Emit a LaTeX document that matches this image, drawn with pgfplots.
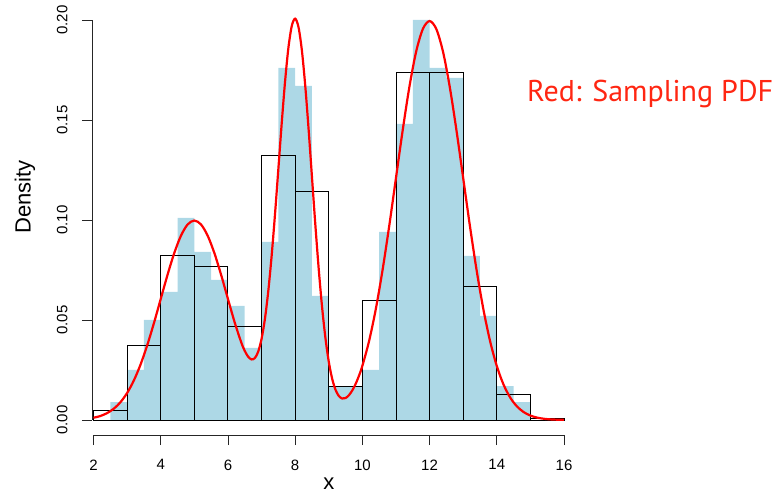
\documentclass[border=0pt]{standalone}
\usepackage{fontspec}
\setmainfont{Liberation Sans}
\newfontfamily\ptsans{PT Sans}
\usepackage{pgfplots}
\pgfplotsset{compat=1.18}
\definecolor{lightblueR}{HTML}{ADD8E6}
\definecolor{textred}{RGB}{255,38,18}
\begin{document}
\begin{tikzpicture}
\useasboundingbox (-93.5pt,-75pt) rectangle (682.5pt,420pt);
\begin{axis}[
  at={(0pt,0pt)}, anchor=south west,
  scale only axis, width=470.5pt, height=400pt,
  xmin=2, xmax=16, ymin=0, ymax=0.2,
  axis x line*=bottom, axis y line*=left,
  axis x line shift=15pt,
  axis y line shift=1.5pt,
  axis line style={-, black!85, line width=0.8pt},
  clip=false,
  xtick={2,4,...,16},
  ytick={0,0.05,0.1,0.15,0.2},
  tick align=outside, major tick length=10pt,
  every tick/.style={black!85, line width=0.8pt},
  /pgf/number format/assume math mode=true,
  tick label style={font=\fontsize{15}{17}\selectfont},
  yticklabel style={rotate=90, anchor=south, /pgf/number format/.cd, fixed, fixed zerofill, precision=2},
  xticklabel style={/pgf/number format/.cd, fixed},
  xticklabel shift=11pt,
  yticklabel shift=11pt,
  xlabel={x}, ylabel={Density},
  every axis x label/.style={at={(axis description cs:0.5,0)}, anchor=base, inner sep=0pt, yshift=-69pt, font=\fontsize{22}{24}\selectfont},
  every axis y label/.style={at={(axis description cs:-0.1456,0.5575)}, rotate=90, anchor=center, font=\fontsize{22}{24}\selectfont},
]
% light blue histogram, width 0.5
\addplot[ybar interval, fill=lightblueR, draw=none] coordinates {
(2.0,0) (2.5,0.009) (3.0,0.025) (3.5,0.050) (4.0,0.064) (4.5,0.101)
(5.0,0.084) (5.5,0.070) (6.0,0.057) (6.5,0.036) (7.0,0.089) (7.5,0.176)
(8.0,0.167) (8.5,0.062) (9.0,0.017) (9.5,0.017) (10.0,0.025) (10.5,0.094)
(11.0,0.148) (11.5,0.200) (12.0,0.176) (12.5,0.171) (13.0,0.082) (13.5,0.052)
(14.0,0.017) (14.5,0.009) (15.0,0) (15.5,0) (16.0,0)
};
% black outlined histogram, width 1
\addplot[ybar interval, fill=none, draw=black, line width=0.9pt] coordinates {
(2,0.005) (3,0.0375) (4,0.0825) (5,0.077) (6,0.0467) (7,0.1325) (8,0.1145)
(9,0.017) (10,0.0597) (11,0.174) (12,0.1737) (13,0.067) (14,0.013) (15,0.001) (16,0)
};
% sampling pdf
\addplot[smooth, red, line width=2.2pt, mark=none] coordinates {
(2.0,0.00111) (2.2,0.00198) (2.4,0.00340) (2.6,0.00560) (2.8,0.00887)
(3.0,0.01350) (3.2,0.01974) (3.4,0.02773) (3.6,0.03743) (3.8,0.04855)
(4.0,0.06049) (4.2,0.07242) (4.4,0.08331) (4.6,0.09207) (4.8,0.09776)
(5.0,0.09974) (5.2,0.09776) (5.4,0.09207) (5.6,0.08331) (5.8,0.07243)
(6.0,0.06056) (6.2,0.04885) (6.4,0.03862) (6.5,0.03460) (6.6,0.03169)
(6.7,0.03030) (6.8,0.03094) (6.9,0.03414) (7.0,0.04049) (7.1,0.05047)
(7.2,0.06433) (7.3,0.08195) (7.4,0.10269) (7.5,0.12537) (7.6,0.14824)
(7.7,0.16922) (7.8,0.18615) (7.9,0.19704) (8.0,0.20065) (8.1,0.19644)
(8.2,0.18488) (8.3,0.16725) (8.4,0.14546) (8.5,0.12164) (8.6,0.09786)
(8.7,0.07583) (8.8,0.05673) (8.9,0.04116) (9.0,0.02924) (9.1,0.02074)
(9.2,0.01517) (9.3,0.01201) (9.4,0.01075) (9.5,0.01098) (9.6,0.01239)
(9.7,0.01478) (9.8,0.01804) (9.9,0.02214) (10.0,0.02706) (10.2,0.03948)
(10.4,0.05546) (10.6,0.07486) (10.8,0.09709) (11.0,0.12099) (11.2,0.14485)
(11.4,0.16661) (11.6,0.18414) (11.8,0.19552) (12.0,0.19947) (12.2,0.19552)
(12.4,0.18414) (12.6,0.16661) (12.8,0.14485) (13.0,0.12099) (13.2,0.09709)
(13.4,0.07486) (13.6,0.05546) (13.8,0.03948) (14.0,0.02700) (14.2,0.01774)
(14.4,0.01120) (14.6,0.00679) (14.8,0.00396) (15.0,0.00222) (15.2,0.00119)
(15.4,0.00062) (15.6,0.00031) (15.8,0.00015) (16.0,0.00007)
};
\end{axis}
\node[anchor=base west, inner sep=0pt, text=textred] at (433.5pt,318pt)
  {\resizebox{246pt}{!}{\ptsans\fontsize{28}{30}\selectfont Red: Sampling PDF}};
\end{tikzpicture}
\end{document}
